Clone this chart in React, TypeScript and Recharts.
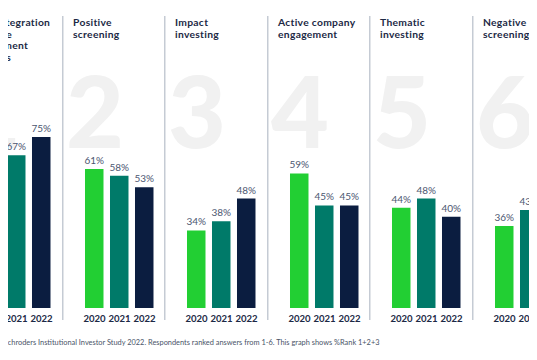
import React from 'react';
import { BarChart, Bar, Cell, XAxis, YAxis, LabelList } from 'recharts';

// Schroders Institutional Investor Study 2022 - % ranking each approach 1+2+3
const categories = [
  'ESG integration\ninto the\ninvestment\nprocess',
  'Positive\nscreening',
  'Impact\ninvesting',
  'Active company\nengagement',
  'Thematic\ninvesting',
  'Negative\nscreening'
];
const years = ['2020', '2021', '2022'];
const values2020 = [67, 61, 34, 59, 44, 36];
const values2021 = [67, 58, 38, 45, 48, 43];
const values2022 = [75, 53, 48, 45, 40, 40];

const COLORS = ['#22cf33', '#007a69', '#0b1d40'];
const NAVY = '#1c2945';
const FONT = 'Lato, "DejaVu Sans", sans-serif';

const PANEL_W = 102.6;
const FIRST_LEFT = -41.1;
const CHART_H = 330;

const seriesByYear = [values2020, values2021, values2022];

function Panel({ index, title }: { index: number; title: string }) {
  const rows = years.map((year, j) => ({ year, value: seriesByYear[j][index] }));
  const left = FIRST_LEFT + index * PANEL_W;
  const lines = title.split('\n');
  // first panel is cut by the frame, its title sits a touch further right
  const titleX = index === 0 ? 15 : 11;
  return (
    <div style={{ position: 'absolute', left, top: 0, width: PANEL_W, height: 360 }}>
      <svg width={PANEL_W} height={CHART_H} style={{ position: 'absolute', left: 0, top: 0, overflow: 'visible' }}>
        <line x1={0.75} x2={0.75} y1={16} y2={320} stroke="#c5cbd4" strokeWidth={1.5} />
        <text x={4} y={148} fontFamily={FONT} fontWeight={900} fontSize={100} fill="#f1f1f1">
          {index + 1}
        </text>
        <text fontFamily={FONT} fontWeight={700} fontSize={10.3} letterSpacing={0.3} fill={NAVY}>
          {lines.map((l, k) => (
            <tspan key={k} x={titleX} y={26 + k * 11.5}>
              {l}
            </tspan>
          ))}
        </text>
      </svg>
      <div style={{ position: 'absolute', left: 0, top: 0 }}>
        <BarChart
          width={PANEL_W}
          height={CHART_H}
          data={rows}
          margin={{ top: 80, right: 7.6, left: 20, bottom: 0 }}
        >
          <XAxis
            dataKey="year"
            axisLine={false}
            tickLine={false}
            interval={0}
            height={22}
            tickMargin={1}
            tick={{ fontSize: 9.6, fontWeight: 700, fill: NAVY, fontFamily: FONT }}
          />
          <YAxis hide domain={[0, 100]} />
          <Bar dataKey="value" barSize={18.5} isAnimationActive={false}>
            {rows.map((r, k) => (
              <Cell key={`cell-${k}`} fill={COLORS[k]} />
            ))}
            <LabelList
              dataKey="value"
              position="top"
              offset={5}
              formatter={(v: number) => `${v}%`}
              style={{ fontSize: 10, fill: '#4b5670', fontFamily: FONT }}
            />
          </Bar>
        </BarChart>
      </div>
    </div>
  );
}

export default function App() {
  return (
    <div
      style={{
        position: 'relative',
        width: 537,
        height: 360,
        margin: -8,
        overflow: 'hidden',
        background: '#ffffff'
      }}
    >
      {categories.map((c, i) => (
        <Panel key={i} index={i} title={c} />
      ))}
      <div
        style={{
          position: 'absolute',
          left: FIRST_LEFT + 19,
          top: 338,
          fontFamily: FONT,
          fontSize: 7.4,
          color: '#4a5468',
          whiteSpace: 'nowrap'
        }}
      >
        Source: Schroders Institutional Investor Study 2022. Respondents ranked answers from 1-6. This graph shows %Rank 1+2+3
      </div>
    </div>
  );
}
